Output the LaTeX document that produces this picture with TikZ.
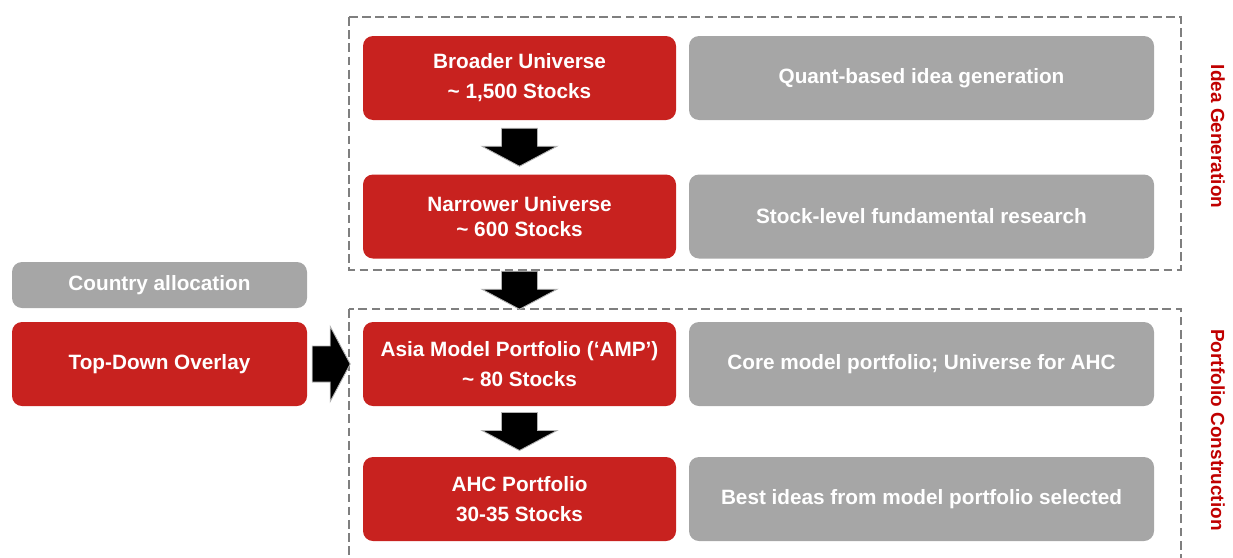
\documentclass[tikz,border=0pt]{standalone}
\usepackage{fontspec}
\setmainfont{Liberation Sans}
\usetikzlibrary{calc}
\definecolor{boxred}{HTML}{C8221F}
\definecolor{boxgray}{HTML}{A6A6A6}
\definecolor{dashgray}{HTML}{7F7F7F}
\definecolor{labelred}{HTML}{C00000}

\begin{document}
\begin{tikzpicture}[line width=1pt,
	redbox/.style={fill=boxred, rounded corners=0.2cm, minimum width=6.26cm, minimum height=1.68cm, text=white, align=center, font=\fontsize{11.8}{17}\selectfont\bfseries},
	graybox/.style={redbox, fill=boxgray, minimum width=9.3cm},
	sidelabel/.style={rotate=-90, text=labelred, font=\fontsize{10.8}{13}\selectfont\bfseries},
	groupbox/.style={draw=dashgray, line width=0.85pt, dash pattern=on 5pt off 2.5pt},
	downarr/.pic={\filldraw[fill=black, draw=gray!60, line width=0.5pt] (-0.36,0.38) -- (0.36,0.38) -- (0.36,0.02) -- (0.75,0.02) -- (0,-0.38) -- (-0.75,0.02) -- (-0.36,0.02) -- cycle;}]
	\clip (0,0) rectangle (24.66,-11.14);
	\draw[groupbox] (6.98,-0.34) rectangle (23.62,-5.40);
	\draw[groupbox] (6.98,-6.18) rectangle (23.62,-11.6);
	\node[redbox] (bu) at (10.39,-1.56) {Broader Universe\\\textasciitilde{} 1,500 Stocks};
	\node[graybox] (qi) at (18.43,-1.56) {Quant-based idea generation};
	\node[redbox] (nu) at (10.39,-4.33) {Narrower Universe\\[-2.8pt]\textasciitilde{} 600 Stocks};
	\node[graybox] (sf) at (18.43,-4.33) {Stock-level fundamental research};
	\node[redbox] (amp) at (10.39,-7.28) {Asia Model Portfolio (‘AMP’)\\\textasciitilde{} 80 Stocks};
	\node[graybox] (cm) at (18.43,-7.28) {Core model portfolio; Universe for AHC};
	\node[redbox] (ahc) at (10.39,-9.98) {AHC Portfolio\\30-35 Stocks};
	\node[graybox] (bi) at (18.43,-9.98) {Best ideas from model portfolio selected};
	\node[graybox, minimum width=5.9cm, minimum height=0.92cm] (ca) at (3.19,-5.70) {Country allocation};
	\node[redbox, minimum width=5.9cm] (tdo) at (3.19,-7.28) {Top-Down Overlay};
	\node[sidelabel] (ig) at (24.36,-2.73) {Idea Generation};
	\node[sidelabel] (pc) at (24.36,-8.60) {Portfolio Construction};
	\pic at ($(bu.south)!.5!(nu.north)$) {downarr};
	\pic at ($(nu.south)!.5!(amp.north)$) {downarr};
	\pic at ($(amp.south)!.5!(ahc.north)$) {downarr};
	\pic[rotate=90] at ($(tdo.east)!.43!(amp.west)$) {downarr};
\end{tikzpicture}
\end{document}
